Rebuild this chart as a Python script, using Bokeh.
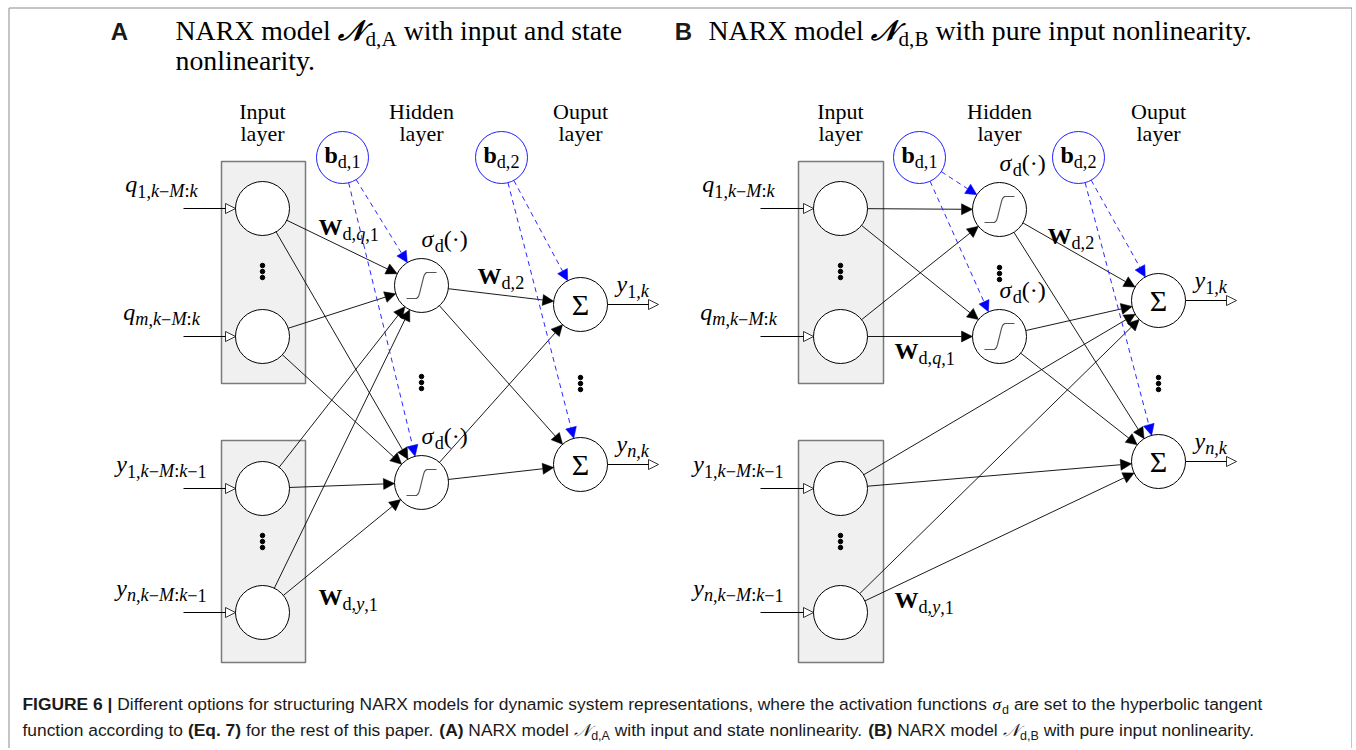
import numpy as np
from bokeh.plotting import figure
from bokeh.models import Range1d, Arrow, NormalHead, ColumnDataSource
from bokeh.core.properties import value
from bokeh.embed import file_html
from bokeh.resources import INLINE

# ---------------- content ----------------
TITLE_A_LINE1 = [("NARX model ", "r"), ("𝒩", "cal"), ("d,A", "sr"), (" with input and state", "r")]
TITLE_A_LINE2 = [("nonlinearity.", "r")]
TITLE_B_LINE1 = [("NARX model ", "r"), ("𝒩", "cal"), ("d,B", "sr"), (" with pure input nonlinearity.", "r")]
LAYER_NAMES = [("Input", "layer"), ("Hidden", "layer"), ("Ouput", "layer")]

INPUT_LABELS = [("q", "1,k−M:k"), ("q", "m,k−M:k"), ("y", "1,k−M:k−1"), ("y", "n,k−M:k−1")]
OUTPUT_LABELS = [("y", "1,k"), ("y", "n,k")]
BIAS_LABELS = [("b", "d,1"), ("b", "d,2")]
WEIGHT_LABELS = {"A": [("W", "d,q,1"), ("W", "d,2"), ("W", "d,y,1")],
                 "B": [("W", "d,2"), ("W", "d,q,1"), ("W", "d,y,1")]}

CAPTION_1 = [("FIGURE 6 | ", "sb"), ("Different options for structuring NARX models for dynamic system representations, where the activation functions ", "sn"),
             ("σ", "i"), ("d", "ssub"), (" are set to the hyperbolic tangent", "sn")]
CAPTION_2 = [("function according to ", "sn"), ("(Eq. 7)", "sb"), (" for the rest of this paper. ", "sn"), ("(A)", "sb"),
             (" NARX model ", "sn"), ("𝒩", "calc"), ("d,A", "ssub"), (" with input and state nonlinearity. ", "sn"), ("(B)", "sb"),
             (" NARX model ", "sn"), ("𝒩", "calc"), ("d,B", "ssub"), (" with pure input nonlinearity.", "sn")]

# ---------------- layout (reference pixel coordinates) ----------------
PANELS = ["A", "B"]
LETTER_X = {"A": 119, "B": 683}
TITLE_X = {"A": (175, 622), "B": (708, 1253)}
IN_X = {"A": 262, "B": 840}
IN_Y = [208, 336, 488, 612]
HID = {"A": [(421, 285), (421, 482)], "B": [(999, 209), (999, 336)]}
OUT = {"A": [(580, 304), (580, 464)], "B": [(1158, 300), (1158, 461)]}
BIAS = {"A": [(342, 157), (501, 157)], "B": [(919, 157), (1078, 157)]}
BOX_X = {"A": (221, 305), "B": (798, 883)}
BOX_Y = [(161, 383), (440, 662)]
WEIGHT_POS = {"A": [(318, 236), (477, 285), (318, 606)],
              "B": [(1047, 245), (894, 360), (894, 609)]}
DOTS = {"A": [(262, 271), (262, 541), (421, 382), (580, 383)],
        "B": [(840, 271), (840, 541), (999, 273), (1158, 383)]}
NODE_R = 27
BIAS_R = 26

EDGES = {
    "A": [("in", 0, "hid", 0), ("in", 0, "hid", 1), ("in", 1, "hid", 0), ("in", 1, "hid", 1),
          ("in", 2, "hid", 0), ("in", 2, "hid", 1), ("in", 3, "hid", 0), ("in", 3, "hid", 1),
          ("hid", 0, "out", 0), ("hid", 0, "out", 1), ("hid", 1, "out", 0), ("hid", 1, "out", 1)],
    "B": [("in", 0, "hid", 0), ("in", 0, "hid", 1), ("in", 1, "hid", 0), ("in", 1, "hid", 1),
          ("hid", 0, "out", 0), ("hid", 0, "out", 1), ("hid", 1, "out", 0), ("hid", 1, "out", 1),
          ("in", 2, "out", 0), ("in", 2, "out", 1), ("in", 3, "out", 0), ("in", 3, "out", 1)],
}
BIAS_EDGES = [(0, "hid", 0), (0, "hid", 1), (1, "out", 0), (1, "out", 1)]
SIGMOID_DX = [-15, -5, -3, -2, -1, 0, 1, 2, 3, 5, 15]
SIGMOID_DY = [13, 13, 11, 8, 4, 0, -4, -8, -11, -13, -13]

SERIF = "Liberation Serif"
SANS = "Liberation Sans"
BASELINE_FIX = 0.38   # renderer places 'alphabetic' text this fraction of the size too low

# ---------------- font metrics (Times / Arial compatible) ----------------
ARIAL = {' ': 278, '(': 333, ')': 333, ',': 278, '-': 333, '.': 278, '|': 260, ':': 278,
         'A': 667, 'B': 667, 'C': 722, 'D': 722, 'E': 667, 'F': 611, 'G': 778, 'H': 722, 'I': 278, 'M': 833,
         'N': 722, 'R': 722, 'U': 722, 'X': 667, 'a': 556, 'b': 556, 'c': 500, 'd': 556, 'e': 556, 'f': 278,
         'g': 556, 'h': 556, 'i': 222, 'j': 222, 'k': 500, 'l': 222, 'm': 833, 'n': 556, 'o': 556, 'p': 556,
         'q': 556, 'r': 333, 's': 500, 't': 278, 'u': 556, 'v': 500, 'w': 722, 'x': 500, 'y': 500, 'z': 500}
ARIAL_B = dict(ARIAL, **{' ': 278, '|': 280, 'A': 722, 'B': 722, 'E': 667, 'F': 611, 'G': 778, 'I': 278,
                          'R': 722, 'U': 722, 'q': 611})
for _d in "0123456789":
    ARIAL[_d] = 556
    ARIAL_B[_d] = 556
TIMES = {' ': 250, ',': 250, '.': 250, ':': 278, '(': 333, ')': 333, '1': 500, '2': 500, '−': 564, '·': 250,
         'A': 722, 'B': 667, 'H': 722, 'I': 333, 'M': 889, 'N': 722, 'O': 722, 'R': 667, 'W': 944, 'X': 722,
         'a': 444, 'b': 500, 'c': 444, 'd': 500, 'e': 444, 'h': 500, 'i': 278, 'k': 500, 'l': 278, 'm': 778,
         'n': 500, 'o': 500, 'p': 500, 'q': 500, 'r': 333, 's': 389, 't': 278, 'u': 500, 'w': 722, 'y': 500,
         'σ': 550, 'Σ': 600, '𝒩': 1000}
TIMES_I = dict(TIMES, **{'k': 444, 'm': 722, 'y': 444, 'M': 833})
TIMES_B = dict(TIMES, **{'W': 1000, 'b': 556})

SUB = 0.76
# kind -> (font, style, scale, dy(em), color, metrics)
KIND = {
    "r": (SERIF, "normal", 1.0, 0.0, "black", TIMES),
    "i": (SERIF, "italic", 1.0, 0.0, "black", TIMES_I),
    "bf": (SERIF, "bold", 1.0, 0.0, "black", TIMES_B),
    "cal": (SERIF, "bold italic", 1.0, 0.0, "black", TIMES),
    "sr": (SERIF, "normal", SUB, 0.2, "black", TIMES),
    "si": (SERIF, "italic", SUB, 0.2, "black", TIMES_I),
    "sn": (SANS, "normal", 1.0, 0.0, "#1a1a1a", ARIAL),
    "sb": (SANS, "bold", 1.0, 0.0, "#1a1a1a", ARIAL_B),
    "ssub": (SANS, "normal", 0.72, 0.25, "#1a1a1a", ARIAL),
    "calc": (SERIF, "italic", 1.0, 0.0, "#1a1a1a", TIMES),
}


def str_w(txt, k):
    tab, sc = KIND[k][5], KIND[k][2]
    return sum(tab.get(c, 550) for c in txt) / 1000.0 * sc


def run_width(runs):
    return sum(str_w(t, k) for t, k in runs)


def math_runs(base, sub, base_kind="i"):
    runs = [(base, base_kind)]
    for ch in sub:
        k = "si" if (ch.isalpha() and ch not in "dAB") else "sr"
        if runs[-1][1] == k and len(runs) > 1:
            runs[-1] = (runs[-1][0] + ch, k)
        else:
            runs.append((ch, k))
    return runs


TEXT_ITEMS = []


def place(runs, x, y, size, align="left"):
    total = run_width(runs) * size
    if align == "center":
        x -= total / 2
    elif align == "right":
        x -= total
    for txt, k in runs:
        font, style, sc, dy, color, tab = KIND[k]
        lead = txt[:len(txt) - len(txt.lstrip(" "))]
        body = txt.strip(" ")
        fs = size * sc
        if body:
            TEXT_ITEMS.append((x + str_w(lead, k) * size, y + dy * size - BASELINE_FIX * fs, body, font, style,
                               round(fs, 1), color))
        x += str_w(txt, k) * size


# ---------------- figure ----------------
W, H = 1352, 748
p = figure(width=W, height=H, x_range=Range1d(0, W), y_range=Range1d(H, 0),
           toolbar_location=None, output_backend="svg", min_border=0,
           x_axis_type=None, y_axis_type=None)
p.grid.visible = False
p.outline_line_color = None
p.background_fill_color = "white"
p.border_fill_color = "white"

# outer frame
p.multi_line(xs=[[8.5, 8.5], [8.5, 1351.5], [1351.5, 1351.5]], ys=[[H, 7.5], [7.5, 7.5], [7.5, H]],
             line_color="#8a8a8a", line_width=1)

# titles
title_runs = {"A": TITLE_A_LINE1, "B": TITLE_B_LINE1}
sizes = [(TITLE_X[k][1] - TITLE_X[k][0]) / run_width(title_runs[k]) for k in PANELS]
tsize = float(np.mean(sizes))
for k in PANELS:
    place([(k, "sb")], LETTER_X[k], 40, 24, "center")
    place(title_runs[k], TITLE_X[k][0], 41, tsize)
place(TITLE_A_LINE2, TITLE_X["A"][0], 71, tsize)

arrows_solid = dict(x0=[], y0=[], x1=[], y1=[])
arrows_bias = dict(x0=[], y0=[], x1=[], y1=[])
arrows_open = dict(x0=[], y0=[], x1=[], y1=[])


def add(d, a, b, ra, rb):
    dx, dy = b[0] - a[0], b[1] - a[1]
    L = np.hypot(dx, dy)
    ux, uy = dx / L, dy / L
    d["x0"].append(a[0] + ra * ux); d["y0"].append(a[1] + ra * uy)
    d["x1"].append(b[0] - rb * ux); d["y1"].append(b[1] - rb * uy)


for k in PANELS:
    bl, br = BOX_X[k]
    p.quad(left=[bl, bl], right=[br, br], top=[b[0] for b in BOX_Y], bottom=[b[1] for b in BOX_Y],
           fill_color="#f0f0f0", line_color="#7a7a7a", line_width=1.5)
    for cx, (w1, w2) in zip([IN_X[k], HID[k][0][0], OUT[k][0][0]], LAYER_NAMES):
        place([(w1, "r")], cx, 119, 22, "center")
        place([(w2, "r")], cx, 141, 22, "center")
    nodes = {"in": [(IN_X[k], y) for y in IN_Y], "hid": HID[k], "out": OUT[k]}
    for s, si, t, ti in EDGES[k]:
        add(arrows_solid, nodes[s][si], nodes[t][ti], NODE_R, NODE_R)
    for bi, t, ti in BIAS_EDGES:
        add(arrows_bias, BIAS[k][bi], nodes[t][ti], BIAS_R, NODE_R)
    for i, y in enumerate(IN_Y):
        arrows_open["x0"].append(bl - 38); arrows_open["y0"].append(y)
        arrows_open["x1"].append(IN_X[k] - NODE_R); arrows_open["y1"].append(y)
        base, sub = INPUT_LABELS[i]
        place(math_runs(base, sub), bl - 60, y - 15, 24, "center")
    for j, (ox, oy) in enumerate(OUT[k]):
        arrows_open["x0"].append(ox + NODE_R); arrows_open["y0"].append(oy)
        arrows_open["x1"].append(ox + 78); arrows_open["y1"].append(oy)
        base, sub = OUTPUT_LABELS[j]
        place(math_runs(base, sub), ox + 36, oy - 11, 24)
    for (base, sub), (wx, wy) in zip(WEIGHT_LABELS[k], WEIGHT_POS[k]):
        place(math_runs(base, sub, "bf"), wx, wy, 24)
    for hx, hy in HID[k]:
        place([("σ", "i"), ("d", "sr"), ("(·)", "r")], hx, hy - 37, 24)

    allc = nodes["in"] + nodes["hid"] + nodes["out"]
    p.circle(x=[c[0] for c in allc], y=[c[1] for c in allc], radius=NODE_R,
             fill_color="white", line_color="black", line_width=1)
    p.circle(x=[c[0] for c in BIAS[k]], y=[c[1] for c in BIAS[k]], radius=BIAS_R,
             fill_color="white", line_color="#1f1fff", line_width=1)
    for (bx, by), (base, sub) in zip(BIAS[k], BIAS_LABELS):
        place(math_runs(base, sub, "bf"), bx, by + 7, 24, "center")
    p.text(x=[c[0] for c in OUT[k]], y=[c[1] for c in OUT[k]], text=["Σ"] * 2,
           text_font=value(SERIF), text_font_size="30px", text_align="center", text_baseline="middle")
    p.multi_line(xs=[[hx + d for d in SIGMOID_DX] for hx, hy in HID[k]],
                 ys=[[hy + d for d in SIGMOID_DY] for hx, hy in HID[k]],
                 line_color="#555555", line_width=1.1)
    dx_, dy_ = [], []
    for cx, cy in DOTS[k]:
        for o in (-6, 0, 6):
            dx_.append(cx); dy_.append(cy + o)
    p.scatter(x=dx_, y=dy_, size=4.5, color="black")

p.add_layout(Arrow(end=NormalHead(size=11, fill_color="black", line_color="black", line_width=0.5),
                   source=ColumnDataSource(arrows_solid), x_start="x0", y_start="y0", x_end="x1", y_end="y1",
                   line_color="black", line_width=0.9))
p.add_layout(Arrow(end=NormalHead(size=11, fill_color="#0000ff", line_color="#0000ff", line_width=0.5),
                   source=ColumnDataSource(arrows_bias), x_start="x0", y_start="y0", x_end="x1", y_end="y1",
                   line_color="#2a2aff", line_width=1, line_dash="5 4"))
p.add_layout(Arrow(end=NormalHead(size=10, fill_color="white", line_color="black", line_width=0.8),
                   source=ColumnDataSource(arrows_open), x_start="x0", y_start="y0", x_end="x1", y_end="y1",
                   line_color="black", line_width=1))

# caption
csize = 1240 / run_width(CAPTION_1)
place(CAPTION_1, 22, 710, csize)
place(CAPTION_2, 22, 736, csize)

groups = {}
for x, y, txt, font, style, size, color in TEXT_ITEMS:
    g = groups.setdefault((font, style, size, color), ([], [], []))
    g[0].append(x); g[1].append(y); g[2].append(txt)
for (font, style, size, color), (xs, ys, ts) in groups.items():
    p.text(x=xs, y=ys, text=ts, text_font=value(font), text_font_style=style,
           text_font_size=f"{size}px", text_color=color, text_align="left", text_baseline="alphabetic")

open("out.html", "w").write(file_html(p, INLINE))
